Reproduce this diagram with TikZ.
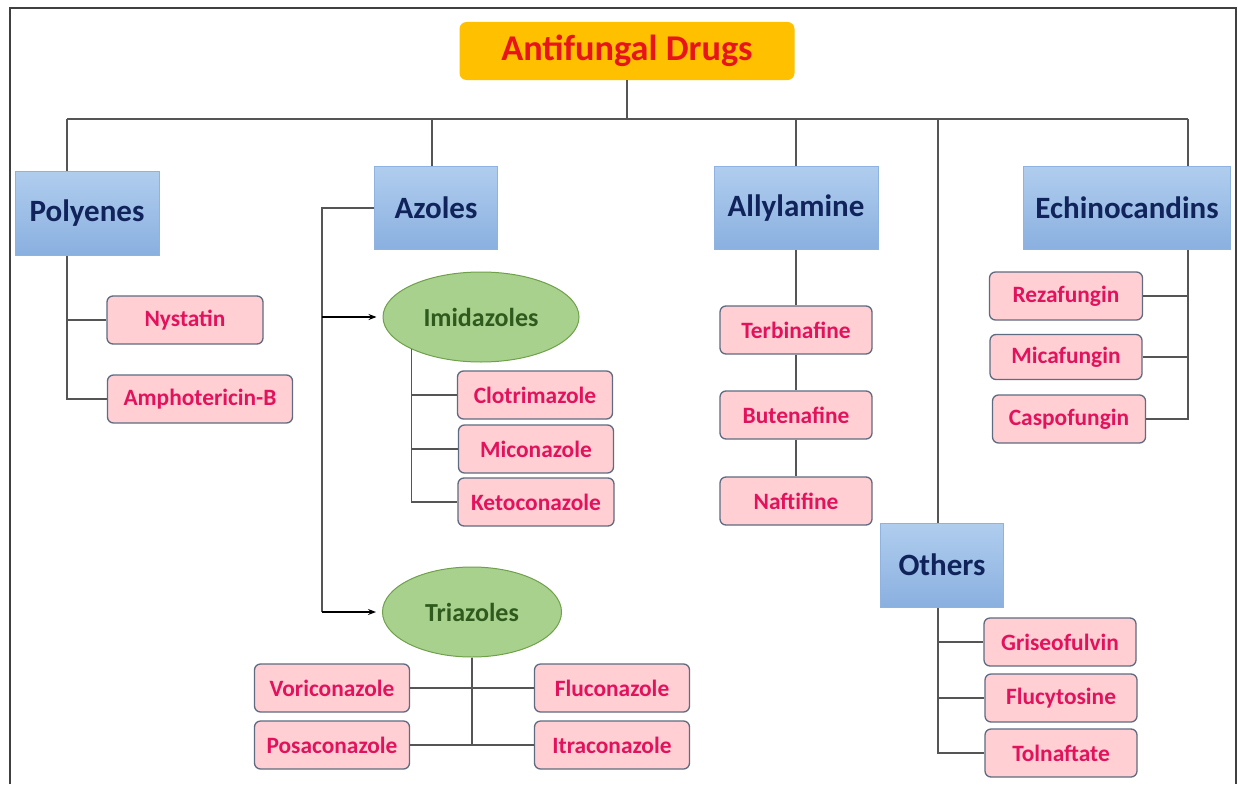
\documentclass[tikz,border=0pt]{standalone}
\usepackage{fontspec}
\setmainfont{Carlito}
\usetikzlibrary{shapes.geometric,arrows.meta,calc}
\definecolor{ttlfill}{HTML}{FFC000}
\definecolor{ttltext}{HTML}{E8141B}
\definecolor{bluetop}{HTML}{B0CDEE}
\definecolor{bluebot}{HTML}{8AB0E0}
\definecolor{blueline}{HTML}{8FB3E0}
\definecolor{bluetext}{HTML}{10235A}
\definecolor{pinkfill}{HTML}{FFCFD4}
\definecolor{pinkline}{HTML}{5E6B80}
\definecolor{pinktext}{HTML}{E3125C}
\definecolor{grnfill}{HTML}{A9D18E}
\definecolor{grnline}{HTML}{6FA04A}
\definecolor{grntext}{HTML}{2E5A1E}
\definecolor{conn}{HTML}{555555}
\definecolor{frame}{HTML}{404040}
\tikzset{
  titlebox/.style={draw=none,fill=ttlfill,rounded corners=7pt,minimum width=335pt,minimum height=58pt,inner sep=0pt,text=ttltext,font=\fontsize{36.3}{40}\selectfont\bfseries},
  catbox/.style={draw=blueline,line width=1pt,top color=bluetop,bottom color=bluebot,inner sep=0pt,text=bluetext,font=\fontsize{31}{34}\selectfont\bfseries},
  drugbox/.style={draw=pinkline,line width=1.3pt,fill=pinkfill,rounded corners=6pt,minimum height=48pt,inner sep=0pt,text=pinktext,font=\fontsize{23.4}{26}\selectfont\bfseries},
  classell/.style={ellipse,draw=grnline,line width=1pt,fill=grnfill,inner sep=0pt,text=grntext,font=\fontsize{26}{28}\selectfont\bfseries},
  link/.style={draw=conn,line width=1.2pt},
  arrowlink/.style={draw=black,line width=1.2pt,-{Stealth[length=8pt,width=6pt]},shorten >=6pt}
}
\begin{document}
\begin{tikzpicture}[x=1pt,y=-1pt]
\useasboundingbox (0,0) rectangle (1238,784);
\fill[white] (0,0) rectangle (1238,784);
% frame
\draw[frame,line width=2pt] (10,784) -- (10,8) -- (1236,8) -- (1236,784);

% title
\node[titlebox] (title) at (627,51) {Antifungal Drugs};

% categories
\node[catbox,minimum width=144pt,minimum height=84pt] (poly) at (87,213) {Polyenes};
\node[catbox,minimum width=123pt,minimum height=83pt] (azol) at (436,208) {Azoles};
\node[catbox,minimum width=164pt,minimum height=83pt] (ally) at (796,208) {Allylamine};
\node[catbox,minimum width=207pt,minimum height=83pt] (echi) at (1127,208) {Echinocandins};
\node[catbox,minimum width=123pt,minimum height=84pt] (othr) at (942,565) {Others};

% polyenes
\node[drugbox,minimum width=156pt] (nyst) at (185,320) {Nystatin};
\node[drugbox,minimum width=185pt] (amph) at (200,399) {Amphotericin-B};

% azoles
\node[classell,minimum width=196pt,minimum height=90pt] (imid) at (481,317) {Imidazoles};
\node[classell,minimum width=179pt,minimum height=90pt] (tria) at (472,612) {Triazoles};
\node[drugbox,minimum width=155pt] (clot) at (535,395) {Clotrimazole};
\node[drugbox,minimum width=155pt] (mico) at (536,449) {Miconazole};
\node[drugbox,minimum width=156pt] (keto) at (536,502) {Ketoconazole};
\node[drugbox,minimum width=155pt] (vori) at (332,688) {Voriconazole};
\node[drugbox,minimum width=155pt] (posa) at (332,745) {Posaconazole};
\node[drugbox,minimum width=155pt] (fluc) at (612,688) {Fluconazole};
\node[drugbox,minimum width=155pt] (itra) at (612,745) {Itraconazole};

% allylamine
\node[drugbox,minimum width=152pt] (terb) at (796,330) {Terbinafine};
\node[drugbox,minimum width=152pt] (bute) at (796,415) {Butenafine};
\node[drugbox,minimum width=152pt] (naft) at (796,501) {Naftifine};

% echinocandins
\node[drugbox,minimum width=153pt] (reza) at (1066,296) {Rezafungin};
\node[drugbox,minimum width=152pt,minimum height=45pt] (mica) at (1066,357) {Micafungin};
\node[drugbox,minimum width=153pt] (casp) at (1069,419) {Caspofungin};

% others
\node[drugbox,minimum width=152pt] (gris) at (1060,642) {Griseofulvin};
\node[drugbox,minimum width=152pt] (fluy) at (1061,698) {Flucytosine};
\node[drugbox,minimum width=152pt] (toln) at (1061,753) {Tolnaftate};

% main tree
\coordinate (hub) at (627,119);
\coordinate (pv) at ([xshift=-20pt]poly.north);
\coordinate (ev) at ([xshift=61pt]echi.north);
\coordinate (ov) at ([xshift=-4pt]othr.north);
\draw[link] (title.south) -- (hub);
\draw[link] (pv |- hub) -- (ev |- hub);
\draw[link] (pv |- hub) -- (pv);
\draw[link] ([xshift=-4pt]azol.north |- hub) -- ([xshift=-4pt]azol.north);
\draw[link] (ally.north |- hub) -- (ally.north);
\draw[link] (ov |- hub) -- (ov);
\draw[link] (ev |- hub) -- (ev);

% polyenes links
\draw[link] ([xshift=-20pt]poly.south) |- (amph.west);
\draw[link] ([xshift=-20pt]poly.south |- nyst.west) -- (nyst.west);

% azoles links
\coordinate (al) at (322,208);
\draw[link] (azol.west) -- (al) -- (al |- tria.west);
\draw[arrowlink] (al |- imid.west) -- (imid.west);
\draw[arrowlink] (al |- tria.west) -- (tria.west);
\draw[link] (imid.205) |- (keto.west);
\draw[link] (imid.205 |- clot.west) -- (clot.west);
\draw[link] (imid.205 |- mico.west) -- (mico.west);
\draw[link] (tria.south) -- (tria.south |- posa.east);
\draw[link] (vori.east) -- (fluc.west);
\draw[link] (posa.east) -- (itra.west);

% allylamine links
\draw[link] (ally.south) -- (terb.north);
\draw[link] (terb.south) -- (bute.north);
\draw[link] (bute.south) -- (naft.north);

% echinocandins links
\coordinate (evs) at ([xshift=61pt]echi.south);
\draw[link] (evs) |- (casp.east);
\draw[link] (evs |- reza.east) -- (reza.east);
\draw[link] (evs |- mica.east) -- (mica.east);

% others links
\coordinate (ovs) at ([xshift=-4pt]othr.south);
\draw[link] (ovs) |- (toln.west);
\draw[link] (ovs |- gris.west) -- (gris.west);
\draw[link] (ovs |- fluy.west) -- (fluy.west);
\end{tikzpicture}
\end{document}
